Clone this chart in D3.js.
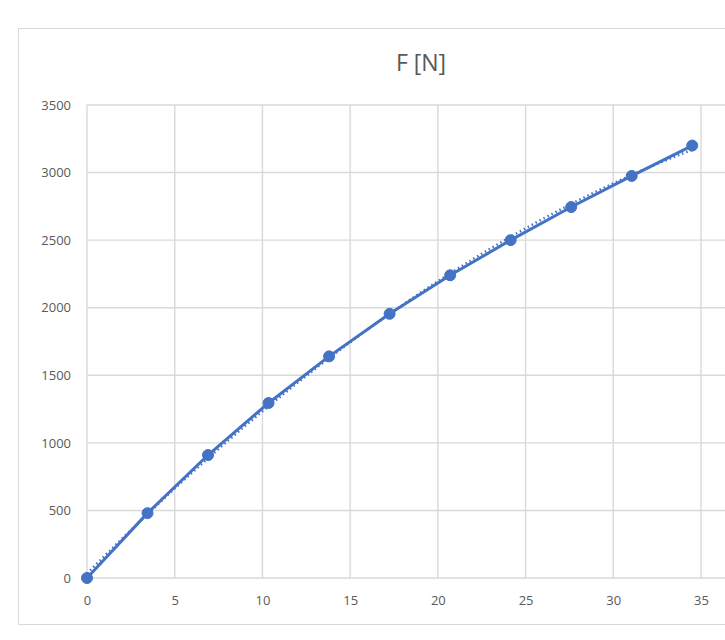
<!DOCTYPE html>
<html><head><meta charset="utf-8">
<script src="https://cdn.jsdelivr.net/npm/d3@7/dist/d3.min.js"></script>
<style>
html,body{margin:0;padding:0;background:#fff;}
svg{display:block;}
</style></head>
<body>
<svg id="chart" width="725" height="640"></svg>
<script>
const title = "F [N]";
const xValues = [0, 3.45, 6.9, 10.35, 13.8, 17.25, 20.7, 24.15, 27.6, 31.05, 34.5];
const yValues = [0, 480, 910, 1295, 1640, 1955, 2240, 2500, 2745, 2975, 3200];
const xTicks = [0, 5, 10, 15, 20, 25, 30, 35];
const yTicks = [0, 500, 1000, 1500, 2000, 2500, 3000, 3500];

const svg = d3.select("#chart");
const font = "'Open Sans', 'Liberation Sans', sans-serif";
const grey = "#595959";
const gridC = "#d9d9d9";
const blue = "#4472C4";

// chart frame
svg.append("rect").attr("x", 18.5).attr("y", 28.5).attr("width", 720).attr("height", 596)
  .attr("fill", "#fff").attr("stroke", "#d9d9d9").attr("stroke-width", 1);

const x = d3.scaleLinear().domain([0, 35]).range([87, 701]);
const y = d3.scaleLinear().domain([0, 3500]).range([578, 105]);
const plotRight = 740;

// title
svg.append("text").attr("x", 421).attr("y", 71).attr("text-anchor", "middle")
  .attr("font-family", font).attr("font-size", 23).attr("fill", grey).text(title);

// horizontal gridlines
svg.append("g").selectAll("line").data(yTicks).join("line")
  .attr("x1", x(0)).attr("x2", plotRight)
  .attr("y1", d => y(d)).attr("y2", d => y(d))
  .attr("stroke", gridC).attr("stroke-width", 1.4);
// vertical gridlines
svg.append("g").selectAll("line").data(xTicks).join("line")
  .attr("x1", d => x(d)).attr("x2", d => x(d))
  .attr("y1", y(3500)).attr("y2", y(0))
  .attr("stroke", gridC).attr("stroke-width", 1.4);

// axes labels via d3 axes
const yAxis = svg.append("g").attr("transform", `translate(${x(0)},0)`)
  .call(d3.axisLeft(y).tickValues(yTicks).tickSize(0).tickPadding(16).tickFormat(d3.format("d")));
yAxis.select(".domain").remove();
yAxis.selectAll("text").attr("font-family", font).attr("font-size", 13).attr("fill", grey);

const xAxis = svg.append("g").attr("transform", `translate(0,${y(0)})`)
  .call(d3.axisBottom(x).tickValues(xTicks).tickSize(0).tickPadding(18).tickFormat(d3.format("d")));
xAxis.select(".domain").remove();
xAxis.selectAll("text").attr("font-family", font).attr("font-size", 13).attr("fill", grey);

// polynomial (order 2) least-squares trendline computed from data
function quadFit(xs, ys) {
  let n = xs.length, s = [0,0,0,0,0], t = [0,0,0];
  for (let i = 0; i < n; i++) {
    let p = 1;
    for (let k = 0; k < 5; k++) { s[k] += p; p *= xs[i]; }
    p = 1;
    for (let k = 0; k < 3; k++) { t[k] += ys[i] * p; p *= xs[i]; }
  }
  const M = [[s[0], s[1], s[2], t[0]], [s[1], s[2], s[3], t[1]], [s[2], s[3], s[4], t[2]]];
  for (let i = 0; i < 3; i++) {
    for (let j = i + 1; j < 3; j++) {
      const f = M[j][i] / M[i][i];
      for (let k = i; k < 4; k++) M[j][k] -= f * M[i][k];
    }
  }
  const c = [0,0,0];
  for (let i = 2; i >= 0; i--) {
    let v = M[i][3];
    for (let k = i + 1; k < 3; k++) v -= M[i][k] * c[k];
    c[i] = v / M[i][i];
  }
  return c;
}
const coef = quadFit(xValues, yValues);
const trendX = d3.range(0, 200 + 1).map(i => xValues[0] + (xValues[xValues.length-1] - xValues[0]) * i / 200);
const trend = trendX.map(v => [v, coef[0] + coef[1]*v + coef[2]*v*v]);

svg.append("path").datum(trend)
  .attr("d", d3.line().x(d => x(d[0])).y(d => y(d[1])))
  .attr("fill", "none").attr("stroke", blue).attr("stroke-width", 2.5)
  .attr("stroke-dasharray", "1.5 3");

// data line
const pts = xValues.map((v, i) => [v, yValues[i]]);
svg.append("path").datum(pts)
  .attr("d", d3.line().x(d => x(d[0])).y(d => y(d[1])))
  .attr("fill", "none").attr("stroke", blue).attr("stroke-width", 3)
  .attr("stroke-linejoin", "round");

svg.append("g").selectAll("circle").data(pts).join("circle")
  .attr("cx", d => x(d[0])).attr("cy", d => y(d[1])).attr("r", 5.5)
  .attr("fill", blue).attr("stroke", blue).attr("stroke-width", 1);
</script>
</body></html>
